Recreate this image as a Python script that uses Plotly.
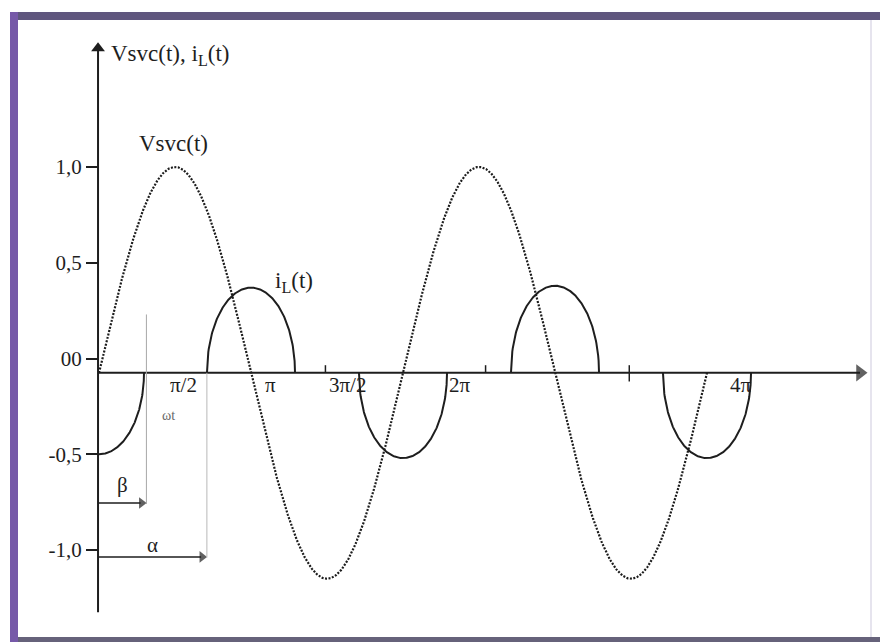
import numpy as np
import plotly.graph_objects as go

# ---- waveform data (y in the units of the tick labels, t in radians) ----
BASE = -0.075          # level of the drawn time axis
V_PEAK = 1.0           # peak of the SVC voltage
T_END = 4 * np.pi      # voltage trace drawn over two periods

# inductor current pulses: centre (rad), half conduction width (rad), extreme value
IL_CENTRES = [0.0, np.pi, 2 * np.pi, 3 * np.pi, 4 * np.pi]
IL_HALFWIDTH = [0.93, 0.91, 0.91, 0.91, 0.91]
IL_EXTREME = [-0.50, 0.37, -0.52, 0.38, -0.52]

ALPHA = 2.23           # firing angle
BETA = 0.98            # end of first conduction interval

Y_TICKS = [1.0, 0.5, 0.0, -0.5, -1.0]
Y_TICKTEXT = ["1,0", "0,5", "00", "-0,5", "-1,0"]

X_LABELS = ["π/2", "π", "3π/2", "2π", "4π"]
X_LABEL_POS = [1.74, 3.55, 5.13, 7.46, 13.27]

# ---- figure geometry ----
W, H = 880, 642
PX_PER_RAD = 152 / np.pi
X0_PX = 99
X_RANGE = [(0 - X0_PX) / PX_PER_RAD, (W - X0_PX) / PX_PER_RAD]
Y_ZERO_PX, PX_PER_UNIT = 358.5, 191.5
Y_RANGE = [(Y_ZERO_PX - H) / PX_PER_UNIT, Y_ZERO_PX / PX_PER_UNIT]

SERIF = "Liberation Serif"
INK = "#1e1e1e"

T_AXIS_START = -0.02
T_AXIS_END = (860 - X0_PX) / PX_PER_RAD
Y_AXIS_TOP = 1.62
Y_AXIS_BOTTOM = -1.325

fig = go.Figure()

# voltage (dotted)
t = np.linspace(0, T_END, 1200)
v = BASE + (V_PEAK - BASE) * np.sin(t)
fig.add_trace(go.Scatter(x=t, y=v, mode="lines",
                         line=dict(color="#1c1c1c", width=2.2, dash="2px,1.5px"),
                         hoverinfo="skip"))

# inductor current pulses (solid)
for c, w, e in zip(IL_CENTRES, IL_HALFWIDTH, IL_EXTREME):
    lo = max(c - w, 0.0)
    tt = np.linspace(lo, c + w, 200)
    u = np.clip((tt - c) / w, -1, 1)
    ii = BASE + (e - BASE) * np.sqrt(1 - u ** 2)
    fig.add_trace(go.Scatter(x=tt, y=ii, mode="lines",
                             line=dict(color=INK, width=2), hoverinfo="skip"))

shapes = []
annotations = []

def paper_y(py):
    return 1 - py / H

def paper_x(px):
    return px / W

# picture frame
shapes += [
    dict(type="rect", xref="paper", yref="paper", x0=paper_x(10), x1=1,
         y0=paper_y(20), y1=paper_y(12), fillcolor="#5f567e", line_width=0, layer="below"),
    dict(type="rect", xref="paper", yref="paper", x0=paper_x(10), x1=paper_x(18),
         y0=0, y1=paper_y(12), fillcolor="#7659a8", line_width=0, layer="below"),
    dict(type="rect", xref="paper", yref="paper", x0=paper_x(18), x1=1,
         y0=0, y1=paper_y(637), fillcolor="#66627a", line_width=0, layer="below"),
    dict(type="line", xref="paper", yref="paper", x0=paper_x(871), x1=paper_x(871),
         y0=paper_y(637), y1=paper_y(20), line=dict(color="#e6e4ee", width=2), layer="below"),
]

# coordinate axes
shapes += [
    dict(type="line", x0=T_AXIS_START, x1=T_AXIS_END, y0=BASE, y1=BASE,
         line=dict(color=INK, width=2)),
    dict(type="line", x0=T_AXIS_START, x1=T_AXIS_START, y0=Y_AXIS_BOTTOM, y1=Y_AXIS_TOP,
         line=dict(color=INK, width=2)),
]

# guide lines and interval arrows for beta and alpha
shapes += [
    dict(type="line", x0=BETA, x1=BETA, y0=0.23, y1=-0.76,
         line=dict(color="#a8a8a8", width=1)),
    dict(type="line", x0=ALPHA, x1=ALPHA, y0=BASE, y1=-1.04,
         line=dict(color="#b8b8b8", width=1)),
    dict(type="line", x0=T_AXIS_START, x1=BETA - 0.12, y0=-0.755, y1=-0.755,
         line=dict(color=INK, width=1.5)),
    dict(type="line", x0=T_AXIS_START, x1=ALPHA - 0.12, y0=-1.036, y1=-1.036,
         line=dict(color=INK, width=1.5)),
]

# small hand-drawn marks on the time axis
for tx, top, bot in [(4.68, BASE + 0.04, BASE), (7.99, BASE + 0.04, BASE),
                     (10.96, BASE + 0.04, BASE - 0.045)]:
    shapes.append(dict(type="line", x0=tx, x1=tx, y0=bot, y1=top,
                       line=dict(color=INK, width=1.5)))

# arrow heads
fig.add_trace(go.Scatter(
    x=[T_AXIS_END, BETA - 0.1, ALPHA - 0.1], y=[BASE, -0.755, -1.036], mode="markers",
    marker=dict(symbol="triangle-right", size=[15, 10, 10], color=INK, line_width=0),
    hoverinfo="skip"))
fig.add_trace(go.Scatter(
    x=[T_AXIS_START], y=[Y_AXIS_TOP], mode="markers",
    marker=dict(symbol="triangle-up", size=12, color=INK, line_width=0),
    hoverinfo="skip"))

def label(text, x, y, size, xanchor="center", color=INK):
    annotations.append(dict(x=x, y=y, xref="x", yref="y", text=text,
                            showarrow=False, xanchor=xanchor, yanchor="middle",
                            font=dict(family=SERIF, size=size, color=color)))

label("Vsvc(t), i<sub>L</sub>(t)", 0.20, 1.585, 23, xanchor="left")
label("Vsvc(t)", 0.79, 1.125, 23, xanchor="left")
label("i<sub>L</sub>(t)", 3.60, 0.40, 23, xanchor="left")
for txt, xp in zip(X_LABELS, X_LABEL_POS):
    label(txt, xp, -0.14, 21)
label("ωt", 1.43, -0.30, 14, color="#666666")
label("β", 0.48, -0.66, 21)
label("α", 1.10, -0.975, 21)

fig.update_layout(
    width=W, height=H,
    margin=dict(l=0, r=0, t=0, b=0),
    paper_bgcolor="white", plot_bgcolor="white",
    showlegend=False,
    shapes=shapes, annotations=annotations,
    xaxis=dict(range=X_RANGE, visible=False, fixedrange=True),
    yaxis=dict(range=Y_RANGE, anchor="free", position=98 / W, side="left",
               showgrid=False, zeroline=False, showline=False,
               tickmode="array", tickvals=Y_TICKS, ticktext=Y_TICKTEXT,
               ticks="outside", ticklen=12, tickwidth=1.5, tickcolor=INK,
               tickfont=dict(family=SERIF, size=21, color=INK),
               fixedrange=True),
)

fig.write_html("out.html")
